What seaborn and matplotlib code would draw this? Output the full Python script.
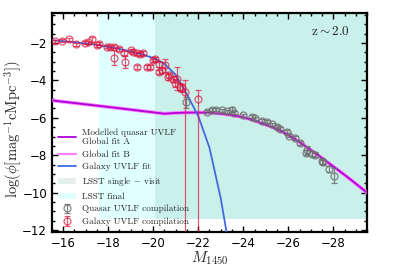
import matplotlib
matplotlib.use("Agg")
import matplotlib.pyplot as plt
from matplotlib.lines import Line2D
from matplotlib.patches import Patch
from matplotlib.ticker import MultipleLocator
import seaborn as sns
import pandas as pd
import numpy as np

# modelled quasar UVLF
qso_model_M = [-15.5, -17.0, -18.5, -20.5, -21.0, -21.5, -22.0, -22.5, -23.0, -23.5,
               -24.0, -24.5, -25.0, -25.5, -26.0, -26.5, -27.0, -27.5, -28.0, -28.5,
               -29.0, -29.5]
qso_model_phi = [-5.07, -5.28, -5.49, -5.78, -5.74, -5.72, -5.72, -5.73, -5.78, -5.86,
                 -5.97, -6.15, -6.37, -6.60, -6.92, -7.30, -7.72, -8.15, -8.60, -9.05,
                 -9.52, -10.0]

# galaxy UVLF fit
gal_fit_M = [-15.5, -16.5, -17.5, -18.5, -19.5, -20.1, -20.5, -21.0, -21.5, -22.0,
             -22.5, -23.0, -23.3]
gal_fit_phi = [-1.85, -1.96, -2.10, -2.32, -2.60, -2.85, -3.12, -3.70, -4.75, -5.90,
               -7.60, -10.3, -12.4]

# galaxy UVLF compilation
gal_M = [-15.64, -15.96, -16.25, -16.55, -16.99, -17.10, -17.29, -17.51, -17.58, -17.96,
         -18.10, -18.24, -18.25, -18.47, -18.70, -18.76, -19.00, -19.10, -19.27, -19.30,
         -19.42, -19.54, -19.72, -19.87, -19.99, -20.10, -20.24, -20.28, -20.39, -20.53,
         -20.68, -20.72, -20.90, -20.98, -21.05, -21.20, -21.27, -21.42, -22.01]
gal_phi = [-1.90, -1.87, -1.81, -2.06, -1.99, -1.95, -1.81, -2.13, -2.05, -2.20,
           -2.22, -2.19, -2.79, -2.33, -2.54, -3.02, -2.40, -2.50, -3.29, -2.56,
           -2.58, -2.54, -3.29, -3.29, -2.93, -2.85, -3.55, -3.14, -3.47, -3.20,
           -3.82, -3.73, -3.91, -4.15, -3.91, -4.35, -4.40, -4.60, -4.97]
gal_err_lo = [0.08, 0.08, 0.08, 0.08, 0.08, 0.08, 0.15, 0.08, 0.08, 0.08,
              0.08, 0.08, 0.40, 0.10, 0.10, 0.30, 0.10, 0.10, 0.10, 0.10,
              0.10, 0.10, 0.10, 0.10, 0.10, 0.10, 0.12, 0.12, 0.12, 0.35,
              0.15, 0.15, 0.15, 0.20, 0.60, 0.20, 0.20, 8.00, 8.00]
gal_err_hi = [0.08, 0.08, 0.08, 0.08, 0.08, 0.08, 0.15, 0.08, 0.08, 0.08,
              0.08, 0.08, 0.40, 0.10, 0.10, 0.30, 0.10, 0.10, 0.10, 0.10,
              0.10, 0.10, 0.10, 0.10, 0.10, 0.10, 0.12, 0.12, 0.12, 0.35,
              0.15, 0.15, 0.15, 0.20, 0.60, 0.20, 0.20, 0.60, 0.45]

# quasar UVLF compilation
qso_M = [-21.45, -22.39, -22.60, -22.80, -23.05, -23.27, -23.50, -23.57, -24.01, -24.39,
         -24.53, -24.83, -25.05, -25.27, -25.50, -25.64, -25.94, -26.01, -26.31, -26.53,
         -26.80, -26.83, -27.05, -27.20, -27.50, -27.55, -27.79, -28.01]
qso_phi = [-5.18, -5.67, -5.58, -5.58, -5.60, -5.65, -5.56, -5.74, -5.85, -5.93,
           -6.03, -6.16, -6.22, -6.35, -6.49, -6.58, -6.76, -6.95, -7.09, -7.36,
           -7.86, -7.72, -7.92, -7.97, -8.33, -8.38, -8.75, -9.10]
qso_err = [0.27, 0.08, 0.08, 0.08, 0.08, 0.08, 0.15, 0.08, 0.08, 0.08,
           0.08, 0.08, 0.08, 0.08, 0.08, 0.08, 0.10, 0.10, 0.10, 0.10,
           0.12, 0.20, 0.12, 0.12, 0.12, 0.12, 0.15, 0.40]

# LSST limits
lsst_final_M = -17.6
lsst_single_M = -20.1
lsst_phi_lim = -11.4

sns.set_style("ticks")
plt.rcParams['mathtext.fontset'] = 'cm'
plt.rcParams['font.family'] = ['DejaVu Sans']
plt.rcParams['axes.unicode_minus'] = True

fig = plt.figure(figsize=(3.99, 2.66), dpi=100)
ax = fig.add_axes([0.130, 0.128, 0.790, 0.823])

xmin, xmax = -15.5, -29.5
ax.fill_between([lsst_final_M, xmax], lsst_phi_lim, 1, color='#e0ffff', lw=0, zorder=0)
ax.fill_between([lsst_single_M, xmax], lsst_phi_lim, 1, color='#2e8b57', alpha=0.12,
                lw=0, zorder=0)

df_q = pd.DataFrame({'M': qso_model_M, 'phi': qso_model_phi})
df_g = pd.DataFrame({'M': gal_fit_M, 'phi': gal_fit_phi})
sns.lineplot(data=df_q, x='M', y='phi', ax=ax, color='#ff80ff', lw=2.6, sort=False,
             estimator=None, zorder=3)
sns.lineplot(data=df_q, x='M', y='phi', ax=ax, color='#b000d8', lw=1.3, sort=False,
             estimator=None, zorder=4)
sns.lineplot(data=df_g, x='M', y='phi', ax=ax, color='royalblue', lw=1.3, sort=False,
             estimator=None, zorder=4)

eq = ax.errorbar(qso_M, qso_phi, yerr=qso_err, fmt='o', ms=5, mfc='none', mec='#707070',
                 ecolor='#707070', mew=0.9, elinewidth=0.9, capsize=2, alpha=0.85, zorder=5)
eg = ax.errorbar(gal_M, gal_phi, yerr=[gal_err_lo, gal_err_hi], fmt='o', ms=5, mfc='none',
                 mec='crimson', ecolor='crimson', mew=0.9, elinewidth=0.9, capsize=2,
                 alpha=0.7, zorder=5)

ax.set_xlim(xmin, xmax)
ax.set_ylim(-12.1, -0.4)
ax.xaxis.set_major_locator(MultipleLocator(2))
ax.xaxis.set_minor_locator(MultipleLocator(0.5))
ax.yaxis.set_major_locator(MultipleLocator(2))
ax.yaxis.set_minor_locator(MultipleLocator(0.5))
ax.tick_params(which='both', direction='in', top=True, right=True, labelsize=8.5,
               width=1, colors='black')
ax.tick_params(which='major', length=4)
ax.tick_params(which='minor', length=2)
for s in ax.spines.values():
    s.set_linewidth(1.6)
    s.set_color('black')

ax.set_xlabel(r'$M_{1450}$', fontsize=11, labelpad=0)
ax.set_ylabel(r'$\log(\phi[\rm{mag}^{-1}\rm{cMpc}^{-3}])$', fontsize=10.5)
ax.yaxis.set_label_coords(-0.085, 0.47)
ax.text(0.945, 0.915, r'$\rm{z\sim2.0}$', transform=ax.transAxes, ha='right', va='center',
        fontsize=9.5)

handles = [
    Line2D([], [], color='#b000d8', lw=1.3),
    Line2D([], [], color='#ff80ff', lw=1.6),
    Line2D([], [], color='royalblue', lw=1.3),
    Patch(facecolor='#2e8b57', alpha=0.12, lw=0),
    Patch(facecolor='#e0ffff', lw=0),
    eq, eg,
]
labels = [
    'Modelled quasar UVLF\nGlobal fit A',
    'Global fit B',
    'Galaxy UVLF fit',
    r'LSST single $-$ visit',
    'LSST final',
    'Quasar UVLF compilation',
    'Galaxy UVLF compilation',
]
ax.legend(handles, labels, loc='lower left', bbox_to_anchor=(0.0, 0.0), frameon=False,
          prop={'family': 'cmr10', 'size': 6.6}, handlelength=2.0, labelspacing=0.45,
          borderaxespad=0.25, handletextpad=0.6, handleheight=0.6)

fig.savefig('out.png', dpi=100)
